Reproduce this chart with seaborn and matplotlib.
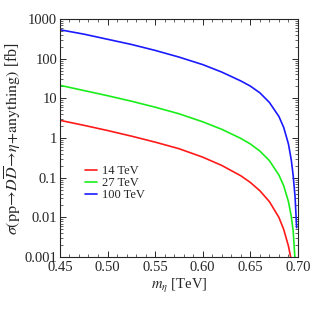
import numpy as np
import pandas as pd
import matplotlib
matplotlib.use('Agg')
import matplotlib.pyplot as plt
import matplotlib.ticker as mticker
import seaborn as sns

# values (cross section in fb vs m_eta in TeV)
m_100 = [0.45, 0.475, 0.50, 0.525, 0.55, 0.575, 0.60, 0.62, 0.64, 0.65, 0.66,
         0.67, 0.68, 0.685, 0.69, 0.693, 0.695, 0.697, 0.6986]
sig_100 = [537, 417, 309, 229, 162, 110, 71, 46, 27.5, 20.4, 13.8,
           7.9, 3.5, 1.86, 0.71, 0.28, 0.112, 0.032, 0.0055]

m_27 = [0.45, 0.475, 0.50, 0.525, 0.55, 0.575, 0.60, 0.62, 0.64, 0.65, 0.66,
        0.67, 0.68, 0.685, 0.69, 0.693, 0.695, 0.697]
sig_27 = [21.4, 15.8, 11.7, 8.5, 6.0, 4.1, 2.57, 1.66, 0.98, 0.71, 0.47,
          0.27, 0.117, 0.063, 0.025, 0.0105, 0.0045, 0.0008]

m_14 = [0.45, 0.475, 0.50, 0.525, 0.55, 0.575, 0.60, 0.62, 0.64, 0.65, 0.66,
        0.67, 0.68, 0.685, 0.69, 0.692, 0.694]
sig_14 = [2.8, 2.1, 1.55, 1.12, 0.79, 0.54, 0.33, 0.204, 0.112, 0.076, 0.047,
          0.025, 0.010, 0.005, 0.0019, 0.0011, 0.00063]

labels = ['14 TeV', '27 TeV', '100 TeV']
colors = ['#ff1a1a', '#1aee1a', '#1a1aff']
yticks = [0.001, 0.01, 0.1, 1, 10, 100, 1000]
ytick_labels = ['0.001', '0.01', '0.1', '1', '10', '100', '1000']
xticks = [0.45, 0.50, 0.55, 0.60, 0.65, 0.70]

df = pd.concat([
    pd.DataFrame({'m': m_14, 'sigma': sig_14, 'energy': labels[0]}),
    pd.DataFrame({'m': m_27, 'sigma': sig_27, 'energy': labels[1]}),
    pd.DataFrame({'m': m_100, 'sigma': sig_100, 'energy': labels[2]}),
])

sns.set_style('ticks')
plt.rcParams['font.family'] = ['Liberation Serif', 'DejaVu Serif']
plt.rcParams['mathtext.fontset'] = 'stix'

fig = plt.figure(figsize=(3.12, 3.12), dpi=100)
ax = fig.add_axes([0.192, 0.176, 0.763, 0.763])

sns.lineplot(data=df, x='m', y='sigma', hue='energy', palette=colors,
             hue_order=labels, linewidth=1.2, ax=ax, sort=False)

ax.set_yscale('log')
ax.set_xlim(0.45, 0.70)
ax.set_ylim(0.001, 1000)
ax.set_yticks(yticks)
ax.set_yticklabels(ytick_labels)
ax.yaxis.set_minor_locator(mticker.LogLocator(base=10, subs=np.arange(2, 10)))
ax.yaxis.set_minor_formatter(mticker.NullFormatter())
ax.set_xticks(xticks)
ax.xaxis.set_major_formatter(mticker.FormatStrFormatter('%.2f'))
ax.xaxis.set_minor_locator(mticker.MultipleLocator(0.01))

ax.tick_params(which='both', direction='in', top=True, right=True,
               labelsize=10.5, pad=2)
ax.tick_params(axis='x', pad=3)
ax.tick_params(which='major', length=4, width=0.7)
ax.tick_params(which='minor', length=2, width=0.5)
for s in ax.spines.values():
    s.set_linewidth(0.8)

ax.set_xlabel(r'$m_\eta$ [TeV]', fontsize=10.5, labelpad=2)
ax.set_ylabel(r'$\sigma(\mathrm{pp}\!\rightarrow\! D\overline{D}\!\rightarrow\!\eta\!+\!\mathrm{anything})$ [fb]',
              fontsize=11.5, labelpad=1)

ax.legend(loc='upper left', bbox_to_anchor=(0.105, 0.385), frameon=False,
          fontsize=9, handlelength=1.0, handletextpad=0.35, labelspacing=0.0,
          borderaxespad=0, borderpad=0)

fig.savefig('out.png', dpi=100)
